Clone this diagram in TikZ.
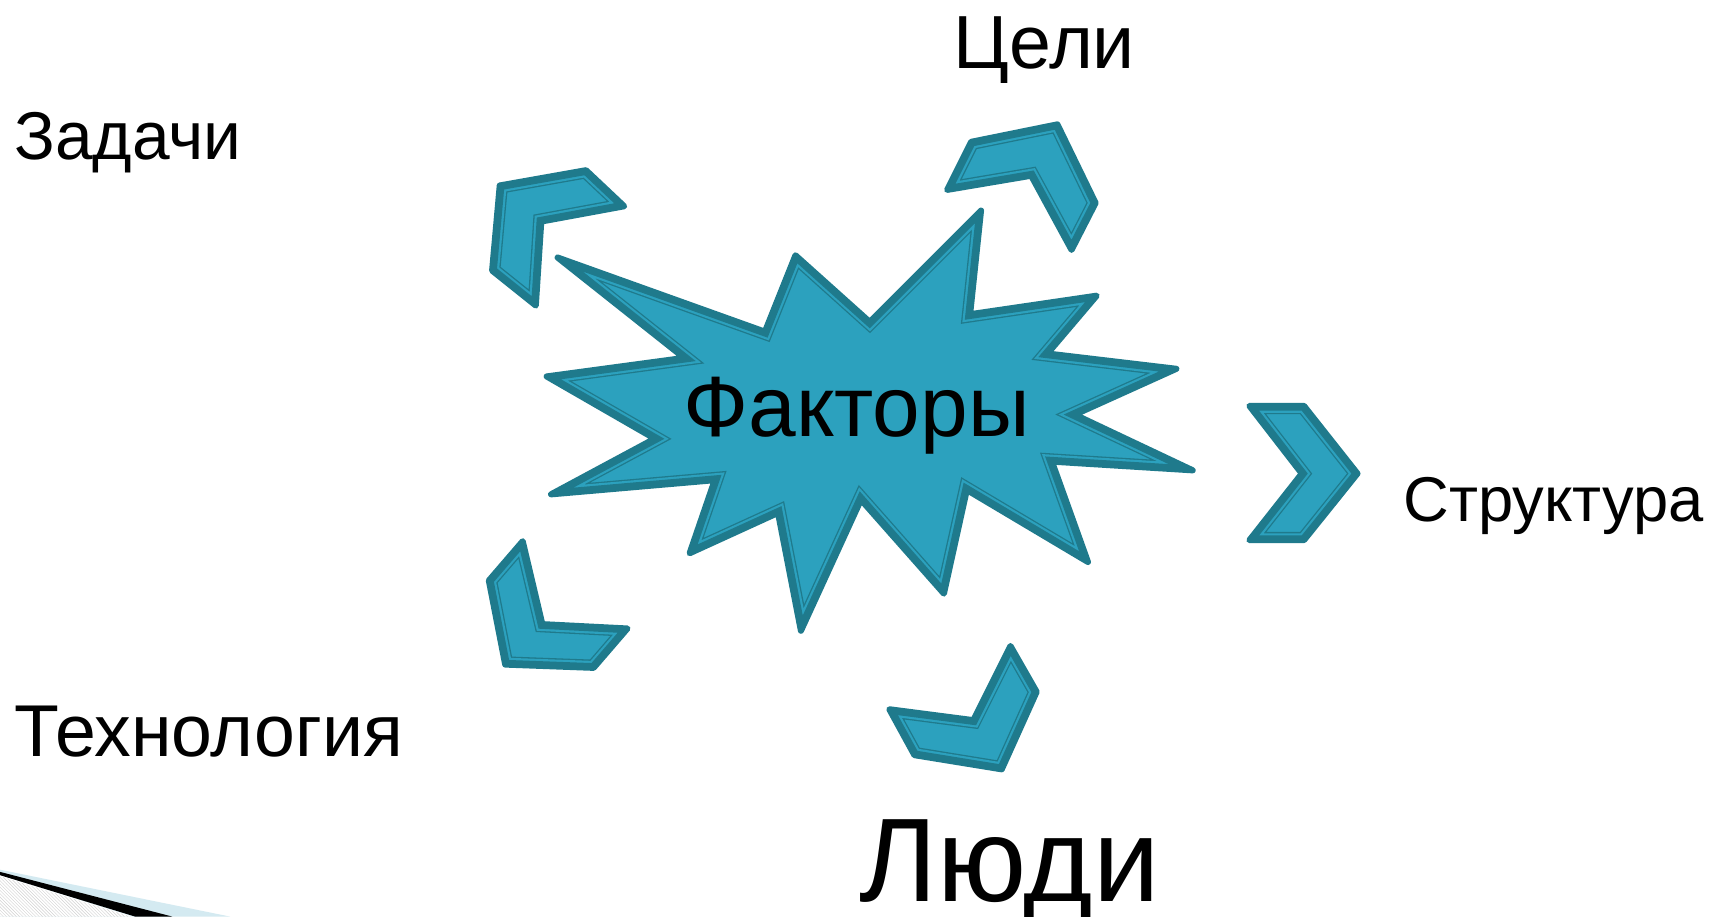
\documentclass[tikz,border=0pt]{standalone}
\usepackage{fontspec}
\setmainfont{Liberation Sans}
\usetikzlibrary{patterns}

\definecolor{burstfill}{HTML}{2CA1BE}
\definecolor{burstline}{HTML}{1F7A8C}
\definecolor{swooshblue}{HTML}{D4EAF1}

% one filled shape with its banded outline
\newcommand{\burstshape}[1]{%
  \fill[burstfill] #1;
  \begin{scope}
    \clip #1;
    \draw[burstline, line width=15pt] #1;
    \draw[burstfill, line width=12.6pt] #1;
    \draw[burstline, line width=8.6pt] #1;
  \end{scope}
  \draw[burstline, line width=5.6pt, line join=round] #1;
}

\tikzset{
  lbl/.style={anchor=base west, inner sep=0pt, text=black},
}

\begin{document}
\begin{tikzpicture}[x=1pt, y=-1pt]
        \useasboundingbox (0,0) rectangle (1568,840);
        \fill[white] (0,0) rectangle (1568,840);

        % central star
        \burstshape{(511,236) -- (701,304) -- (729,234) -- (797,295) -- (899,193) -- (889,288)
            -- (1005,271) -- (960,324) -- (1078,338) -- (985,380) -- (1093,431) -- (964,423)
            -- (997,515) -- (886,449) -- (865,544) -- (789,458) -- (734,578) -- (713,470)
            -- (632,507) -- (655,440) -- (505,453) -- (600,402) -- (501,345) -- (627,328) -- cycle}

        % chevrons
        \burstshape{(458,170) -- (537,156) -- (572,189) -- (496,203) -- (491,280) -- (451,248) -- cycle}
        \burstshape{(868,174) -- (890,130) -- (969,114) -- (1004,186) -- (982,229) -- (945,161) -- cycle}
        \burstshape{(1145,372) -- (1195,372) -- (1244,434) -- (1195,495) -- (1145,495) -- (1193,434) -- cycle}
        \burstshape{(479,496) -- (448,532) -- (463,609) -- (544,612) -- (575,576) -- (497,572) -- cycle}
        \burstshape{(815,650) -- (838,692) -- (918,705) -- (950,634) -- (926,592) -- (892,660) -- cycle}

        % corner swoosh
        \fill[swooshblue] (0,797) -- (211,840) -- (0,840) -- cycle;
        \fill[white] (0,802) -- (122,840) -- (0,840) -- cycle;
        \fill[pattern=north west lines, pattern color=gray!35] (0,803) -- (120,840) -- (0,840) -- cycle;
        \fill[black] (0,799) -- (158,840) -- (124,840) -- (0,802) -- cycle;

        % labels
        \node[lbl, font=\fontsize{69}{77}\selectfont] (goals) at (874,63) {Цели};
        \node[lbl, font=\fontsize{62}{70}\selectfont] (tasks) at (13,146) {Задачи};
        \node[lbl, font=\fontsize{78.5}{88}\selectfont] (factors) at (626,400) {Факторы};
        \node[lbl, font=\fontsize{58}{66}\selectfont] (structure) at (1286,478) {Структура};
        \node[lbl, font=\fontsize{67.3}{75}\selectfont] (tech) at (13,693) {Технология};
        \node[lbl, font=\fontsize{109}{118}\selectfont] (people) at (787,826) {Люди};
\end{tikzpicture}
\end{document}
